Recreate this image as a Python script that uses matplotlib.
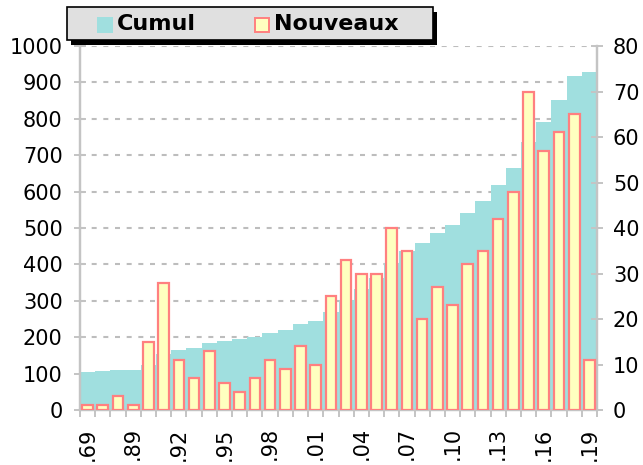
import matplotlib
matplotlib.use("Agg")
import matplotlib.pyplot as plt
from matplotlib.patches import Rectangle
import numpy as np

# Year labels (two-digit) for each bar group
years = [".69", ".87", ".88", ".89", ".90", ".91", ".92", ".93", ".94", ".95",
         ".96", ".97", ".98", ".99", ".00", ".01", ".02", ".03", ".04", ".05",
         ".06", ".07", ".08", ".09", ".10", ".11", ".12", ".13", ".14", ".15",
         ".16", ".17", ".18", ".19"]

# New entries per year (right axis)
nouveaux = [1, 1, 3, 1, 15, 28, 11, 7, 13, 6,
            4, 7, 11, 9, 14, 10, 25, 33, 30, 30,
            40, 35, 20, 27, 23, 32, 35, 42, 48, 70,
            57, 61, 65, 11]

# Running total (left axis)
cumul = [105, 106, 109, 110, 125, 153, 164, 171, 184, 190,
         194, 201, 212, 221, 235, 245, 270, 303, 333, 363,
         403, 438, 458, 485, 508, 540, 575, 617, 665, 735,
         792, 853, 918, 929]

W, H = 643, 465
fig = plt.figure(figsize=(W / 100, H / 100), dpi=100)
plt.rcParams["font.family"] = ["DejaVu Sans"]

ax = fig.add_axes([80 / W, 1 - 410 / H, (597 - 80) / W, (410 - 46) / H])
ax2 = ax.twinx()

gray = "#c4c4c4"
teal = "#a0dfdf"
yellow = "#ffffc0"
red = "#ff8080"

x = np.arange(len(years))

# Cumulative area as touching bars
ax.bar(x, cumul, width=1.0, color=teal, edgecolor="none", zorder=2)
ax.set_ylim(0, 1000)
ax.set_xlim(-0.5, len(years) - 0.5)
ax.set_yticks(np.arange(0, 1001, 100))
ax.yaxis.grid(True, linestyle=(0, (2.4, 3.2)), color="#bdbdbd", linewidth=1.5, zorder=0)
ax.set_axisbelow(True)

# New entries per year
ax2.bar(x, nouveaux, width=0.7, color=yellow, edgecolor=red, linewidth=1.6, zorder=3)
ax2.set_ylim(0, 80)
ax2.set_yticks(np.arange(0, 81, 10))

for a in (ax, ax2):
    a.spines["top"].set_visible(False)
    for s in ("left", "right", "bottom"):
        a.spines[s].set_color(gray)
        a.spines[s].set_linewidth(1.6)

ax.tick_params(axis="y", direction="inout", length=8, width=1.4, color=gray,
               labelsize=15, pad=8.5)
ax2.tick_params(axis="y", direction="inout", length=8, width=1.4, color=gray,
                labelsize=15, pad=7.5)

# Labels every third year, tick marks at group boundaries
ax.set_xticks(x[::3])
ax.set_xticklabels([years[i] for i in x[::3]], rotation=90, fontsize=15)
ax.tick_params(axis="x", which="major", length=0, pad=12.5)
ax.set_xticks(np.arange(-0.5, len(years), 1.0), minor=True)
ax.tick_params(axis="x", which="minor", direction="out", length=5, width=1.4, color=gray)

# Legend box with drop shadow
def fx(px):
    return px / W

def fy(py):
    return 1 - py / H

tf = fig.transFigure
fig.patches.append(Rectangle((fx(71), fy(45)), fx(437) - fx(71), fy(12) - fy(45),
                             transform=tf, facecolor="black", edgecolor="none", zorder=10))
fig.patches.append(Rectangle((fx(67), fy(40)), fx(433) - fx(67), fy(7) - fy(40),
                             transform=tf, facecolor="#e0e0e0", edgecolor="black",
                             linewidth=1.2, zorder=11))
fig.patches.append(Rectangle((fx(97), fy(33)), fx(113) - fx(97), fy(17) - fy(33),
                             transform=tf, facecolor=teal, edgecolor="none", zorder=12))
fig.patches.append(Rectangle((fx(255), fy(32)), fx(269) - fx(255), fy(18) - fy(32),
                             transform=tf, facecolor=yellow, edgecolor=red,
                             linewidth=1.4, zorder=12))
fig.text(fx(117), fy(24), "Cumul", fontsize=16, fontweight="bold",
         va="center", ha="left", zorder=13)
fig.text(fx(274), fy(24), "Nouveaux", fontsize=16, fontweight="bold",
         va="center", ha="left", zorder=13)

fig.savefig("out.png", dpi=100)
